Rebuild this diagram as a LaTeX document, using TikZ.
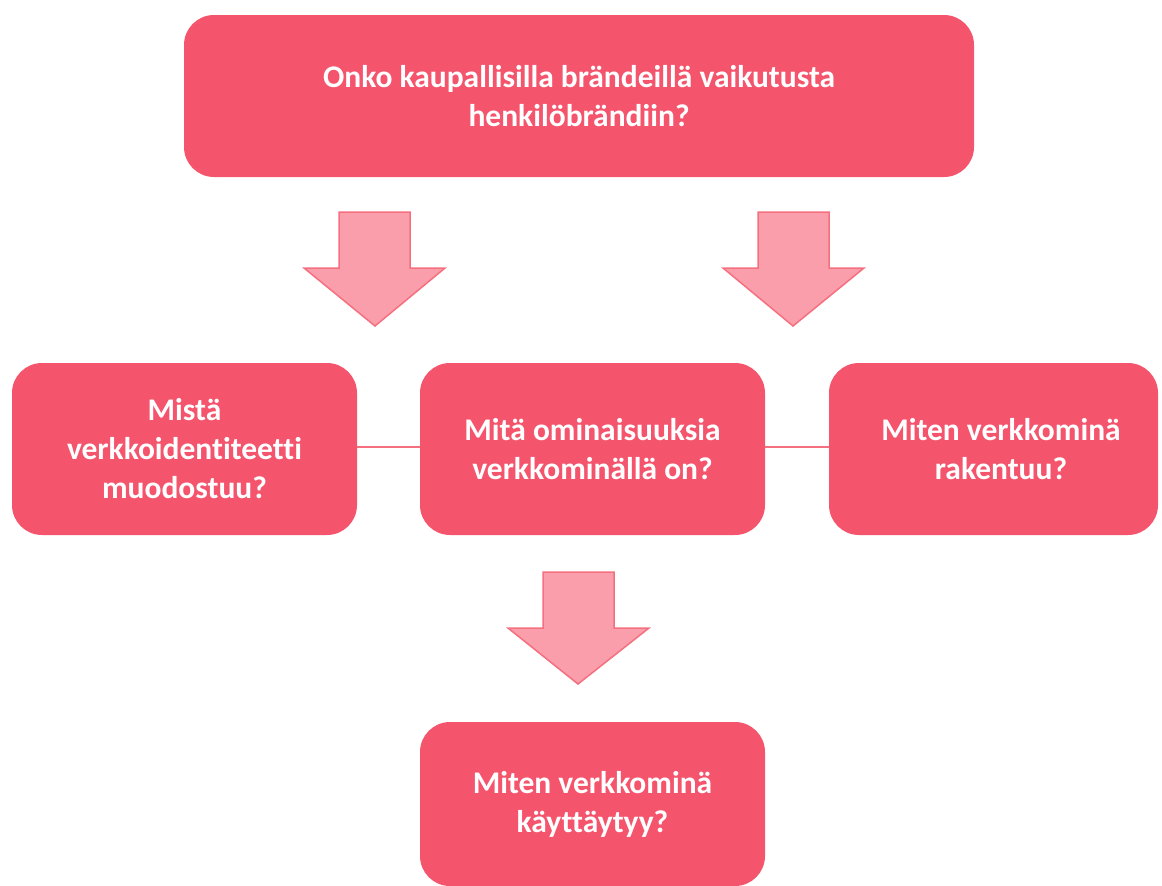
\documentclass[tikz,border=0pt]{standalone}
\usepackage{fontspec}
\setmainfont{Carlito}[Ligatures=NoCommon]
\definecolor{boxred}{HTML}{F5546D}
\definecolor{arrfill}{HTML}{FB9EAB}
\definecolor{arrline}{HTML}{F4707F}
\begin{document}
\begin{tikzpicture}[x=1pt,y=-1pt,
  qbox/.style={fill=boxred, draw=none, rounded corners=30pt, text=white,
    font=\fontsize{31.5}{39}\selectfont\bfseries, align=center, inner sep=0pt},
  blockarrow/.style={fill=arrfill, draw=arrline, line width=1.5pt, line join=miter},
  link/.style={draw=arrline, line width=1.5pt}]
\useasboundingbox (0,0) rectangle (1162,886);
\node[qbox, minimum width=790pt, minimum height=162pt] (top) at (579,96)
  {Onko kaupallisilla brändeillä vaikutusta\\henkilöbrändiin?};
\node[qbox, minimum width=345pt, minimum height=172pt] (left) at (184.5,449)
  {Mistä\\verkkoidentiteetti\\muodostuu?};
\node[qbox, minimum width=345pt, minimum height=172pt] (mid) at (592.5,449)
  {Mitä ominaisuuksia\\verkkominällä on?};
\node[qbox, minimum width=329pt, minimum height=172pt] (right) at (993.5,449)
  {\hspace*{15pt}Miten verkkominä\\\hspace*{15pt}rakentuu?};
\node[qbox, minimum width=345pt, minimum height=164pt] (bot) at (592.5,804)
  {Miten verkkominä\\käyttäytyy?};
\draw[link] (left.east |- 0,447) -- (mid.west |- 0,447);
\draw[link] (mid.east |- 0,447) -- (right.west |- 0,447);
\draw[blockarrow] (339,212) -- (410,212) -- (410,268) -- (445,268) -- (375,326) -- (304,268) -- (339,268) -- cycle;
\draw[blockarrow] (758,212) -- (829,212) -- (829,268) -- (864,268) -- (793,326) -- (723,268) -- (758,268) -- cycle;
\draw[blockarrow] (543,572) -- (614,572) -- (614,628) -- (649,628) -- (578,684) -- (508,628) -- (543,628) -- cycle;
\end{tikzpicture}
\end{document}
